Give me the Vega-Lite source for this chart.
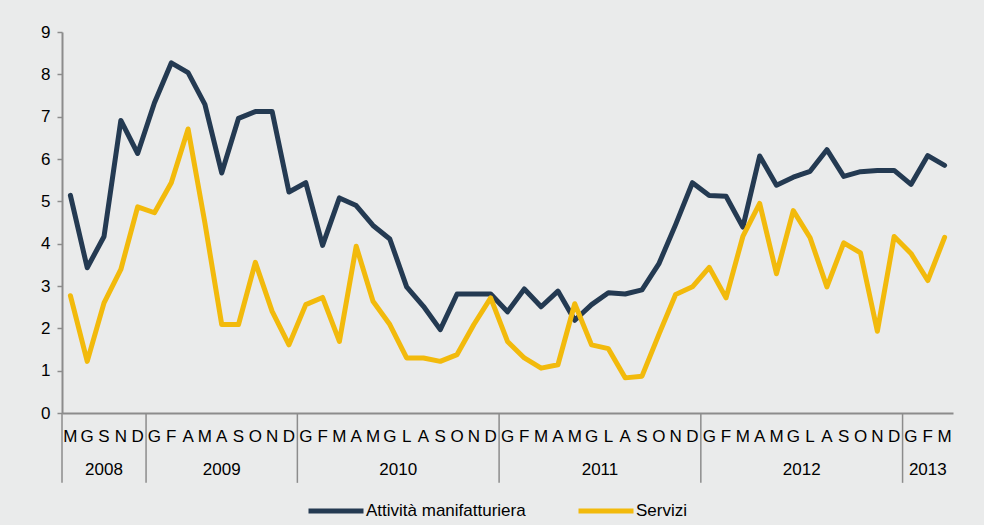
{
  "$schema": "https://vega.github.io/schema/vega-lite/v6.json",
  "width": 891,
  "height": 381,
  "autosize": {"type": "none"},
  "padding": {"left": 62, "top": 32, "right": 31, "bottom": 112},
  "background": "#EAEBEB",
  "config": {
    "font": "Liberation Sans",
    "view": {"stroke": null},
    "axis": {"grid": false, "domainColor": "#8C8C8C", "domainWidth": 2, "tickColor": "#8C8C8C"}
  },
  "data": {
    "values": [
      {"t": 0, "anno": "2008", "mese": "M", "Attività manifatturiera": 5.14, "Servizi": 2.77},
      {"t": 1, "anno": "2008", "mese": "G", "Attività manifatturiera": 3.43, "Servizi": 1.22},
      {"t": 2, "anno": "2008", "mese": "S", "Attività manifatturiera": 4.17, "Servizi": 2.60},
      {"t": 3, "anno": "2008", "mese": "N", "Attività manifatturiera": 6.91, "Servizi": 3.39},
      {"t": 4, "anno": "2008", "mese": "D", "Attività manifatturiera": 6.13, "Servizi": 4.87},
      {"t": 5, "anno": "2009", "mese": "G", "Attività manifatturiera": 7.33, "Servizi": 4.73},
      {"t": 6, "anno": "2009", "mese": "F", "Attività manifatturiera": 8.27, "Servizi": 5.44},
      {"t": 7, "anno": "2009", "mese": "A", "Attività manifatturiera": 8.04, "Servizi": 6.71},
      {"t": 8, "anno": "2009", "mese": "M", "Attività manifatturiera": 7.29, "Servizi": 4.49},
      {"t": 9, "anno": "2009", "mese": "A", "Attività manifatturiera": 5.67, "Servizi": 2.09},
      {"t": 10, "anno": "2009", "mese": "S", "Attività manifatturiera": 6.96, "Servizi": 2.09},
      {"t": 11, "anno": "2009", "mese": "O", "Attività manifatturiera": 7.12, "Servizi": 3.56},
      {"t": 12, "anno": "2009", "mese": "N", "Attività manifatturiera": 7.12, "Servizi": 2.40},
      {"t": 13, "anno": "2009", "mese": "D", "Attività manifatturiera": 5.22, "Servizi": 1.61},
      {"t": 14, "anno": "2010", "mese": "G", "Attività manifatturiera": 5.44, "Servizi": 2.56},
      {"t": 15, "anno": "2010", "mese": "F", "Attività manifatturiera": 3.96, "Servizi": 2.73},
      {"t": 16, "anno": "2010", "mese": "M", "Attività manifatturiera": 5.08, "Servizi": 1.69},
      {"t": 17, "anno": "2010", "mese": "A", "Attività manifatturiera": 4.90, "Servizi": 3.94},
      {"t": 18, "anno": "2010", "mese": "M", "Attività manifatturiera": 4.43, "Servizi": 2.64},
      {"t": 19, "anno": "2010", "mese": "G", "Attività manifatturiera": 4.11, "Servizi": 2.09},
      {"t": 20, "anno": "2010", "mese": "L", "Attività manifatturiera": 2.98, "Servizi": 1.30},
      {"t": 21, "anno": "2010", "mese": "A", "Attività manifatturiera": 2.52, "Servizi": 1.30},
      {"t": 22, "anno": "2010", "mese": "S", "Attività manifatturiera": 1.97, "Servizi": 1.22},
      {"t": 23, "anno": "2010", "mese": "O", "Attività manifatturiera": 2.81, "Servizi": 1.38},
      {"t": 24, "anno": "2010", "mese": "N", "Attività manifatturiera": 2.81, "Servizi": 2.09},
      {"t": 25, "anno": "2010", "mese": "D", "Attività manifatturiera": 2.81, "Servizi": 2.72},
      {"t": 26, "anno": "2011", "mese": "G", "Attività manifatturiera": 2.39, "Servizi": 1.69},
      {"t": 27, "anno": "2011", "mese": "F", "Attività manifatturiera": 2.93, "Servizi": 1.30},
      {"t": 28, "anno": "2011", "mese": "M", "Attività manifatturiera": 2.51, "Servizi": 1.06},
      {"t": 29, "anno": "2011", "mese": "A", "Attività manifatturiera": 2.88, "Servizi": 1.14},
      {"t": 30, "anno": "2011", "mese": "M", "Attività manifatturiera": 2.19, "Servizi": 2.58},
      {"t": 31, "anno": "2011", "mese": "G", "Attività manifatturiera": 2.56, "Servizi": 1.61},
      {"t": 32, "anno": "2011", "mese": "L", "Attività manifatturiera": 2.84, "Servizi": 1.52},
      {"t": 33, "anno": "2011", "mese": "A", "Attività manifatturiera": 2.81, "Servizi": 0.83},
      {"t": 34, "anno": "2011", "mese": "S", "Attività manifatturiera": 2.91, "Servizi": 0.87},
      {"t": 35, "anno": "2011", "mese": "O", "Attività manifatturiera": 3.52, "Servizi": 1.85},
      {"t": 36, "anno": "2011", "mese": "N", "Attività manifatturiera": 4.45, "Servizi": 2.80},
      {"t": 37, "anno": "2011", "mese": "D", "Attività manifatturiera": 5.44, "Servizi": 2.98},
      {"t": 38, "anno": "2012", "mese": "G", "Attività manifatturiera": 5.14, "Servizi": 3.44},
      {"t": 39, "anno": "2012", "mese": "F", "Attività manifatturiera": 5.12, "Servizi": 2.72},
      {"t": 40, "anno": "2012", "mese": "M", "Attività manifatturiera": 4.39, "Servizi": 4.17},
      {"t": 41, "anno": "2012", "mese": "A", "Attività manifatturiera": 6.07, "Servizi": 4.95},
      {"t": 42, "anno": "2012", "mese": "M", "Attività manifatturiera": 5.38, "Servizi": 3.29},
      {"t": 43, "anno": "2012", "mese": "G", "Attività manifatturiera": 5.57, "Servizi": 4.78},
      {"t": 44, "anno": "2012", "mese": "L", "Attività manifatturiera": 5.71, "Servizi": 4.14},
      {"t": 45, "anno": "2012", "mese": "A", "Attività manifatturiera": 6.22, "Servizi": 2.98},
      {"t": 46, "anno": "2012", "mese": "S", "Attività manifatturiera": 5.59, "Servizi": 4.02},
      {"t": 47, "anno": "2012", "mese": "O", "Attività manifatturiera": 5.70, "Servizi": 3.78},
      {"t": 48, "anno": "2012", "mese": "N", "Attività manifatturiera": 5.73, "Servizi": 1.93},
      {"t": 49, "anno": "2012", "mese": "D", "Attività manifatturiera": 5.73, "Servizi": 4.17},
      {"t": 50, "anno": "2013", "mese": "G", "Attività manifatturiera": 5.40, "Servizi": 3.77},
      {"t": 51, "anno": "2013", "mese": "F", "Attività manifatturiera": 6.08, "Servizi": 3.13},
      {"t": 52, "anno": "2013", "mese": "M", "Attività manifatturiera": 5.85, "Servizi": 4.15}
    ]
  },
  "layer": [
    {
      "transform": [{"fold": ["Attività manifatturiera", "Servizi"], "as": ["serie", "valore"]}],
      "mark": {"type": "line", "strokeWidth": 5, "strokeJoin": "round", "strokeCap": "round"},
      "encoding": {
        "x": {"field": "t", "type": "quantitative", "scale": {"domain": [-0.5, 52.5], "nice": false, "zero": false},
              "axis": {"labels": false, "ticks": false, "title": null, "domainWidth": 2}},
        "y": {"field": "valore", "type": "quantitative", "scale": {"domain": [0, 9], "nice": false},
              "axis": {"title": null, "values": [0,1,2,3,4,5,6,7,8,9], "labelFontSize": 17, "labelColor": "#000000",
                       "tickSize": 5, "tickWidth": 1.5, "labelPadding": 7}},
        "color": {"field": "serie", "type": "nominal",
                  "scale": {"domain": ["Attività manifatturiera", "Servizi"], "range": ["#243A52", "#F2BA0C"]},
                  "legend": {"title": null, "orient": "none", "legendX": 244, "legendY": 449, "direction": "horizontal",
                             "symbolType": "stroke", "symbolSize": 3025, "symbolStrokeWidth": 5,
                             "labelFontSize": 17, "labelColor": "#000000", "labelOffset": 0, "columnPadding": 42}},
        "order": {"field": "t", "type": "quantitative"}
      }
    },
    {
      "mark": {"type": "text", "fontSize": 17, "color": "#000000", "baseline": "middle", "dy": 24},
      "encoding": {
        "x": {"field": "t", "type": "quantitative"},
        "y": {"datum": 0},
        "text": {"field": "mese", "type": "nominal"}
      }
    },
    {
      "transform": [{"aggregate": [{"op": "mean", "field": "t", "as": "tc"}], "groupby": ["anno"]}],
      "mark": {"type": "text", "fontSize": 17, "color": "#000000", "baseline": "middle", "dy": 57},
      "encoding": {
        "x": {"field": "tc", "type": "quantitative"},
        "y": {"datum": 0},
        "text": {"field": "anno", "type": "nominal"}
      }
    },
    {
      "transform": [{"aggregate": [{"op": "min", "field": "t", "as": "t0"}], "groupby": ["anno"]}],
      "mark": {"type": "rule", "color": "#8C8C8C", "strokeWidth": 1.5, "xOffset": -8.4},
      "encoding": {
        "x": {"field": "t0", "type": "quantitative"},
        "y": {"datum": 0},
        "y2": {"datum": -1.65}
      }
    }
  ]
}
